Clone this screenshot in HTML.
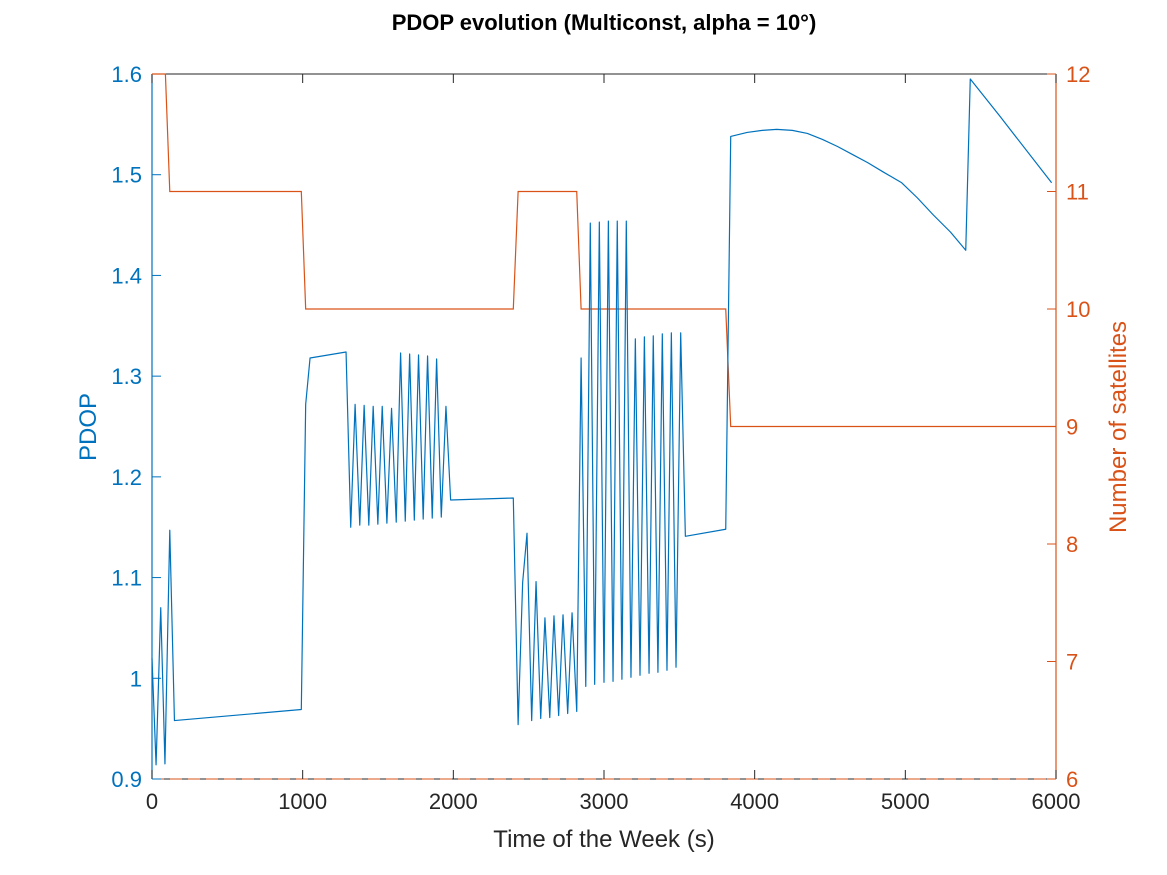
<!DOCTYPE html>
<html><head><meta charset="utf-8"><style>
html,body{margin:0;padding:0;background:#fff;}
svg{display:block;font-family:"Liberation Sans",Arial,sans-serif;}
</style></head><body>
<svg id="chart" width="1167" height="875" viewBox="0 0 1167 875">
<text x="604" y="30" text-anchor="middle" font-size="22" font-weight="bold" fill="#000">PDOP evolution (Multiconst, alpha = 10°)</text>
<g id="axes"></g>
<g id="plot"></g>
<text x="604" y="847" text-anchor="middle" font-size="24" fill="#262626">Time of the Week (s)</text>
<text transform="translate(96,427) rotate(-90)" text-anchor="middle" font-size="24" fill="#0072BD">PDOP</text>
<text transform="translate(1126,427) rotate(-90)" text-anchor="middle" font-size="24" fill="#D95319">Number of satellites</text>
</svg>
<script>
const xTicks=[0,1000,2000,3000,4000,5000,6000];
const leftTicks=[0.9,1,1.1,1.2,1.3,1.4,1.5,1.6];
const leftTickLabels=["0.9","1","1.1","1.2","1.3","1.4","1.5","1.6"];
const rightTicks=[6,7,8,9,10,11,12];
const pdopT=[0,27,58,86,118,149,991,1020,1049,1288,1319,1348,1379,1408,1439,1468,1499,1528,1559,1590,1621,1650,1681,1710,1741,1769,1800,1829,1860,1889,1920,1951,1982,2398,2430,2460,2489,2520,2549,2580,2608,2640,2668,2699,2728,2759,2788,2819,2848,2879,2909,2938,2969,3000,3029,3060,3088,3119,3148,3179,3208,3239,3268,3299,3327,3358,3387,3418,3447,3478,3509,3540,3808,3841,3950,4050,4146,4250,4350,4450,4550,4650,4750,4850,4976,5080,5186,5300,5401,5431,5628,5971];
const pdopV=[1.02,0.914,1.07,0.915,1.147,0.958,0.969,1.272,1.318,1.324,1.150,1.272,1.152,1.271,1.152,1.270,1.153,1.270,1.154,1.268,1.155,1.323,1.156,1.322,1.157,1.321,1.158,1.320,1.159,1.317,1.160,1.270,1.177,1.179,0.954,1.095,1.144,0.958,1.096,0.960,1.060,0.961,1.062,0.963,1.063,0.965,1.065,0.967,1.318,0.992,1.452,0.994,1.453,0.996,1.454,0.997,1.454,0.999,1.454,1.001,1.337,1.003,1.339,1.005,1.340,1.006,1.342,1.008,1.343,1.011,1.343,1.141,1.148,1.538,1.542,1.544,1.545,1.544,1.541,1.535,1.528,1.520,1.512,1.503,1.492,1.477,1.460,1.443,1.425,1.595,1.558,1.492];
const satT=[0,89,118,991,1020,2398,2430,2819,2848,3808,3841,6000];
const satV=[12,12,11,11,10,10,11,11,10,10,9,9];
const X0=152,X1=1056,Y0=779,Y1=74;
const xs=t=>X0+(t-0)/(6000-0)*(X1-X0);
const yl=v=>Y0-(v-0.9)/(1.6-0.9)*(Y0-Y1);
const yr=v=>Y0-(v-6)/(12-6)*(Y0-Y1);
const NS="http://www.w3.org/2000/svg";
const axes=document.getElementById('axes'),plot=document.getElementById('plot');
function mk(tag,attrs,parent){const e=document.createElementNS(NS,tag);for(const k in attrs)e.setAttribute(k,attrs[k]);parent.appendChild(e);return e;}
let l=mk('line',{x1:X0,y1:Y1,x2:X1,y2:Y1,stroke:'#262626','stroke-width':1},axes);


l=mk('line',{x1:X0,y1:Y0,x2:X1,y2:Y0,stroke:'#262626','stroke-width':1},axes);


l=mk('line',{x1:X0,y1:Y0,x2:X1,y2:Y0,stroke:'#D95319','stroke-width':1,'stroke-dasharray':'12,6'},axes);


l=mk('line',{x1:X0,y1:Y1,x2:X0,y2:Y0,stroke:'#0072BD','stroke-width':1.2},axes);


l=mk('line',{x1:X1,y1:Y1,x2:X1,y2:Y0,stroke:'#D95319','stroke-width':1.2},axes);


xTicks.forEach(t=>{
  const x=xs(t);
  let a=mk('line',{x1:x,y1:Y0,x2:x,y2:Y0-9,stroke:'#262626'},axes);
  
  
  a=mk('line',{x1:x,y1:Y1,x2:x,y2:Y1+9,stroke:'#262626'},axes);
  
  
  const tx=mk('text',{x:x,y:Y0+30,'text-anchor':'middle','font-size':22,fill:'#262626'},axes);
  tx.textContent=t;
  
  
});
leftTicks.forEach((v,i)=>{
  const y=yl(v);
  const a=mk('line',{x1:X0,y1:y,x2:X0+9,y2:y,stroke:'#0072BD'},axes);
  
  
  const tx=mk('text',{x:X0-10,y:y+8,'text-anchor':'end','font-size':22,fill:'#0072BD'},axes);
  tx.textContent=leftTickLabels[i];
  
  
});
rightTicks.forEach(v=>{
  const y=yr(v);
  const a=mk('line',{x1:X1,y1:y,x2:X1-9,y2:y,stroke:'#D95319'},axes);
  
  
  const tx=mk('text',{x:X1+10,y:y+8,'text-anchor':'start','font-size':22,fill:'#D95319'},axes);
  tx.textContent=v;
  
  
});
const sp=mk('polyline',{points:satT.map((t,i)=>xs(t)+','+yr(satV[i])).join(' '),fill:'none',stroke:'#D95319','stroke-width':1.2},plot);


const pp=mk('polyline',{points:pdopT.map((t,i)=>xs(t)+','+yl(pdopV[i])).join(' '),fill:'none',stroke:'#0072BD','stroke-width':1.2,'stroke-linejoin':'round'},plot);


</script>
</body></html>
